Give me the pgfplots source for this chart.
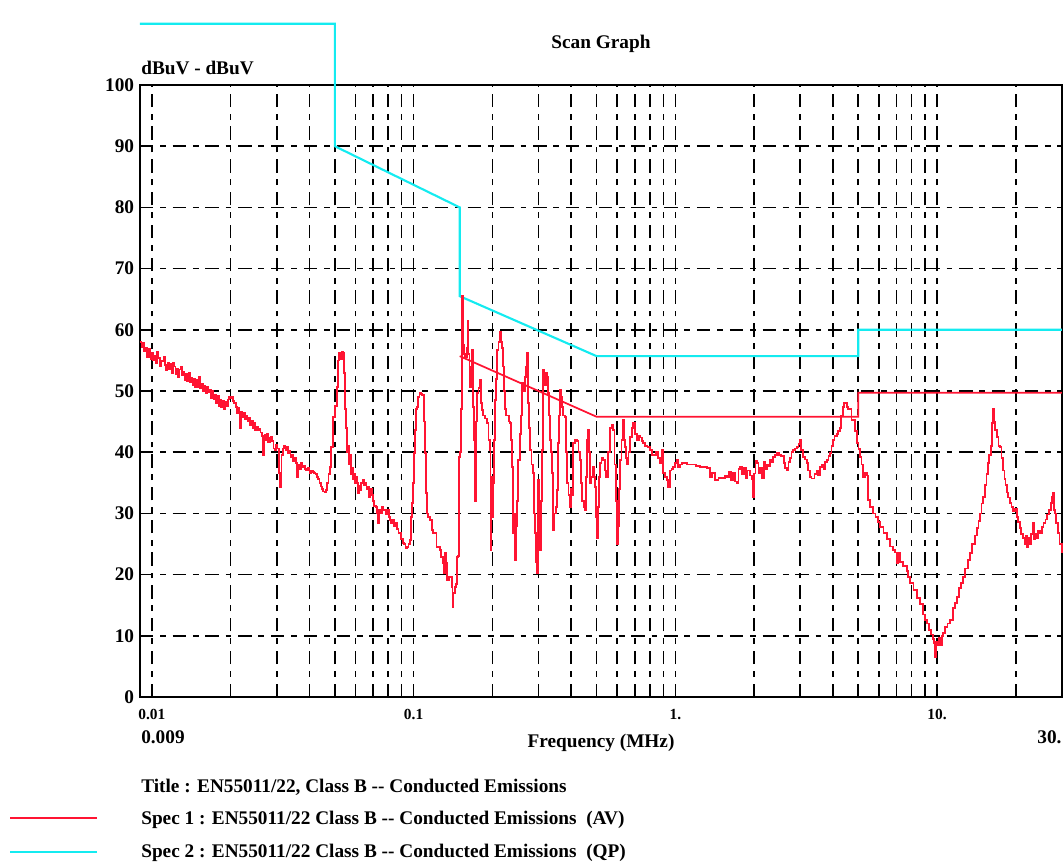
\documentclass[border=0pt]{standalone}
\usepackage{fontspec}
\setmainfont{Liberation Serif}
\usepackage{pgfplots}
\usepackage{pgfplotstable}
\pgfplotsset{compat=1.18}
\definecolor{measred}{RGB}{255,20,50}
\definecolor{qpcyan}{RGB}{20,235,240}

% measured trace: lf = log10(frequency in MHz), v = level in dBuV
\pgfplotstableread{
lf v
-2.0457 58.0
-2.040 57.2
-2.035 57.8
-2.030 56.5
-2.025 57.0
-2.020 55.6
-2.015 55.5
-2.010 56.9
-2.005 55.2
-2.000 56.3
-1.995 55.0
-1.990 55.8
-1.985 54.6
-1.980 56.4
-1.975 55.4
-1.970 54.0
-1.965 55.0
-1.960 54.8
-1.955 55.5
-1.950 54.2
-1.945 53.4
-1.940 54.6
-1.935 53.6
-1.930 54.4
-1.925 53.0
-1.920 54.6
-1.915 54.0
-1.910 52.8
-1.905 53.6
-1.900 52.3
-1.895 53.5
-1.890 54.0
-1.885 52.6
-1.880 53.2
-1.875 51.8
-1.870 52.8
-1.865 51.6
-1.860 52.9
-1.855 51.4
-1.850 52.2
-1.845 51.0
-1.840 52.0
-1.835 50.6
-1.830 51.8
-1.825 50.7
-1.820 52.3
-1.815 50.4
-1.810 51.2
-1.805 50.0
-1.800 50.9
-1.795 49.6
-1.790 50.6
-1.785 49.8
-1.780 50.2
-1.775 48.9
-1.770 50.0
-1.765 48.6
-1.760 49.4
-1.755 48.0
-1.750 49.2
-1.745 47.6
-1.740 48.6
-1.735 47.4
-1.730 48.4
-1.725 47.0
-1.720 48.2
-1.715 47.6
-1.710 48.6
-1.705 49.0
-1.700 48.8
-1.695 49.0
-1.690 48.4
-1.685 48.0
-1.680 47.4
-1.675 46.4
-1.670 47.2
-1.665 44.0
-1.660 46.6
-1.655 45.8
-1.650 46.4
-1.645 45.4
-1.640 46.0
-1.635 45.0
-1.630 45.6
-1.625 44.4
-1.620 45.2
-1.615 44.0
-1.610 44.8
-1.605 43.6
-1.600 44.2
-1.595 43.6
-1.590 43.8
-1.585 43.2
-1.580 42.6
-1.575 39.5
-1.570 42.8
-1.565 42.0
-1.560 43.0
-1.555 41.6
-1.550 42.4
-1.545 42.5
-1.540 41.8
-1.535 40.6
-1.530 40.4
-1.525 41.2
-1.520 40.6
-1.515 36.6
-1.510 34.3
-1.505 39.6
-1.500 40.6
-1.495 41.0
-1.490 40.4
-1.485 40.8
-1.480 39.8
-1.475 40.2
-1.470 39.2
-1.465 39.6
-1.460 38.6
-1.455 39.0
-1.450 38.2
-1.445 36.0
-1.440 38.0
-1.435 37.2
-1.430 38.2
-1.425 37.6
-1.420 37.8
-1.415 37.2
-1.410 37.0
-1.405 37.4
-1.400 37.0
-1.395 36.6
-1.390 37.0
-1.385 36.8
-1.380 36.6
-1.375 36.4
-1.370 36.0
-1.365 35.6
-1.360 35.0
-1.355 34.4
-1.350 34.0
-1.345 33.6
-1.340 33.4
-1.335 33.8
-1.330 35.0
-1.325 36.4
-1.320 37.6
-1.315 40.8
-1.308 45.7
-1.300 47.5
-1.293 50.7
-1.289 55.0
-1.284 56.2
-1.280 55.2
-1.275 56.4
-1.270 56.2
-1.266 53.0
-1.262 47.0
-1.258 44.0
-1.255 40.0
-1.251 41.0
-1.247 38.0
-1.243 39.5
-1.240 36.4
-1.236 37.5
-1.232 35.6
-1.228 36.4
-1.224 35.0
-1.220 36.0
-1.217 35.0
-1.213 33.3
-1.209 34.5
-1.205 33.8
-1.200 35.0
-1.194 35.5
-1.190 34.6
-1.186 35.0
-1.180 34.0
-1.175 34.3
-1.170 32.7
-1.165 34.0
-1.160 33.0
-1.155 32.0
-1.150 31.2
-1.145 31.0
-1.140 30.0
-1.136 28.4
-1.132 30.6
-1.126 30.0
-1.122 31.0
-1.117 30.6
-1.110 30.5
-1.105 29.8
-1.100 30.5
-1.095 29.4
-1.090 28.9
-1.085 28.4
-1.080 29.0
-1.075 28.0
-1.070 28.4
-1.064 27.5
-1.058 26.8
-1.052 26.8
-1.047 25.8
-1.041 25.2
-1.036 25.0
-1.031 24.3
-1.026 24.5
-1.020 25.0
-1.014 25.6
-1.010 29.4
-1.007 31.7
-1.003 35.0
-0.999 39.9
-0.995 43.6
-0.991 47.0
-0.987 47.4
-0.983 49.0
-0.978 49.7
-0.972 49.5
-0.968 49.3
-0.964 49.3
-0.960 45.0
-0.957 39.9
-0.953 33.3
-0.949 30.0
-0.945 29.4
-0.938 28.9
-0.930 27.3
-0.925 26.8
-0.919 26.8
-0.912 24.5
-0.905 24.5
-0.900 24.0
-0.894 22.9
-0.888 21.9
-0.884 20.3
-0.880 23.5
-0.876 21.9
-0.873 19.1
-0.866 19.6
-0.860 19.6
-0.854 18.0
-0.851 14.7
-0.848 17.0
-0.842 18.0
-0.838 18.5
-0.834 22.9
-0.830 23.0
-0.826 39.2
-0.822 40.0
-0.818 47.0
-0.8155 65.5
-0.812 57.5
-0.808 56.0
-0.804 55.5
-0.800 55.5
-0.796 57.0
-0.793 61.4
-0.790 56.0
-0.787 50.6
-0.782 54.0
-0.777 56.7
-0.773 47.4
-0.768 42.0
-0.766 32.0
-0.762 45.0
-0.758 49.7
-0.752 50.5
-0.747 51.8
-0.742 48.0
-0.739 46.9
-0.735 46.0
-0.728 45.5
-0.720 44.8
-0.714 42.0
-0.708 40.4
-0.706 24.0
-0.703 36.0
-0.701 29.4
-0.697 35.0
-0.693 42.0
-0.689 48.5
-0.685 52.0
-0.682 56.7
-0.676 58.0
-0.670 59.6
-0.666 58.0
-0.663 57.0
-0.659 54.0
-0.655 50.0
-0.651 47.0
-0.647 46.0
-0.643 46.0
-0.636 45.0
-0.632 44.8
-0.628 42.0
-0.624 37.6
-0.621 26.8
-0.617 30.0
-0.613 22.4
-0.609 28.0
-0.605 32.0
-0.601 38.7
-0.594 43.0
-0.590 46.0
-0.586 51.3
-0.580 50.0
-0.575 52.3
-0.571 54.0
-0.567 56.2
-0.563 48.0
-0.560 44.0
-0.556 40.4
-0.550 38.0
-0.544 36.6
-0.540 30.0
-0.537 26.8
-0.533 22.0
-0.529 20.3
-0.525 35.5
-0.521 30.0
-0.517 24.0
-0.513 32.0
-0.510 40.4
-0.506 53.4
-0.500 51.0
-0.495 53.0
-0.491 52.3
-0.487 49.7
-0.483 46.0
-0.479 42.0
-0.475 40.0
-0.472 36.6
-0.468 27.3
-0.462 30.0
-0.456 31.0
-0.452 33.8
-0.449 41.5
-0.445 46.0
-0.441 50.2
-0.437 49.0
-0.433 47.4
-0.428 46.0
-0.422 45.8
-0.418 40.0
-0.414 35.0
-0.408 33.0
-0.403 31.0
-0.399 34.0
-0.395 33.0
-0.391 41.5
-0.383 42.0
-0.376 41.8
-0.370 40.0
-0.365 38.7
-0.361 35.0
-0.357 32.0
-0.350 31.0
-0.345 30.5
-0.341 36.0
-0.338 42.0
-0.334 43.6
-0.330 40.0
-0.326 35.0
-0.320 36.0
-0.315 37.6
-0.311 36.0
-0.307 34.3
-0.303 29.4
-0.300 26.0
-0.296 31.0
-0.292 36.0
-0.288 38.2
-0.282 39.0
-0.277 38.7
-0.270 37.0
-0.265 36.0
-0.258 40.0
-0.250 44.0
-0.244 44.5
-0.238 43.6
-0.233 38.0
-0.228 32.0
-0.223 25.0
-0.219 28.0
-0.215 34.0
-0.212 38.7
-0.206 42.0
-0.200 45.3
-0.196 42.0
-0.193 40.8
-0.189 39.0
-0.185 38.0
-0.179 40.0
-0.173 42.5
-0.166 44.0
-0.162 44.8
-0.155 43.0
-0.147 42.0
-0.140 42.6
-0.135 42.4
-0.128 41.8
-0.124 41.5
-0.115 41.0
-0.106 40.8
-0.097 40.4
-0.090 39.5
-0.086 39.5
-0.075 40.0
-0.066 39.0
-0.059 38.2
-0.051 40.4
-0.047 36.6
-0.040 36.0
-0.032 35.5
-0.028 34.3
-0.021 37.0
-0.015 37.2
-0.009 37.6
0.000 38.2
0.006 38.7
0.010 37.6
0.017 38.0
0.025 38.2
0.044 38.0
0.060 38.0
0.080 37.8
0.094 37.6
0.110 37.6
0.121 37.4
0.132 36.0
0.140 36.6
0.151 35.5
0.165 35.8
0.180 35.8
0.190 36.2
0.197 36.0
0.205 36.8
0.212 35.4
0.220 36.6
0.228 35.2
0.235 35.0
0.241 37.2
0.247 37.6
0.255 36.4
0.262 37.4
0.270 35.8
0.274 37.0
0.285 36.2
0.293 35.6
0.297 32.7
0.301 36.5
0.306 38.6
0.312 38.2
0.318 36.6
0.323 37.4
0.330 35.8
0.338 38.4
0.345 37.2
0.350 38.0
0.356 37.8
0.361 38.7
0.367 38.4
0.373 39.2
0.380 39.6
0.388 39.9
0.395 39.6
0.405 39.4
0.414 38.2
0.420 37.4
0.426 37.0
0.432 38.4
0.438 39.0
0.444 40.0
0.449 40.4
0.457 40.6
0.465 40.8
0.471 41.4
0.476 42.0
0.480 40.4
0.488 39.2
0.495 38.8
0.503 38.2
0.508 37.0
0.514 36.0
0.520 35.7
0.526 35.7
0.532 36.4
0.540 37.0
0.546 36.2
0.553 37.6
0.560 38.0
0.566 37.2
0.572 38.4
0.579 38.7
0.585 39.4
0.591 39.9
0.597 41.0
0.602 42.0
0.608 42.6
0.617 43.0
0.623 43.5
0.629 44.0
0.634 46.0
0.640 47.4
0.644 48.0
0.652 48.0
0.656 47.4
0.660 47.0
0.667 47.0
0.673 45.3
0.679 45.3
0.686 43.5
0.694 41.5
0.700 40.5
0.705 39.2
0.711 38.0
0.717 36.0
0.725 36.6
0.732 36.2
0.737 32.2
0.745 31.0
0.755 30.0
0.765 29.4
0.775 28.6
0.782 27.8
0.795 26.8
0.809 25.8
0.820 24.6
0.831 24.0
0.840 23.6
0.847 21.9
0.853 23.5
0.858 22.0
0.870 21.4
0.885 20.6
0.890 19.6
0.896 18.6
0.910 17.5
0.923 16.2
0.935 15.2
0.946 13.5
0.955 12.6
0.961 12.0
0.970 11.0
0.978 10.2
0.984 9.5
0.988 8.8
0.992 6.5
0.996 9.0
1.003 8.5
1.008 9.6
1.012 8.4
1.018 10.0
1.023 10.5
1.030 11.4
1.040 12.0
1.049 12.6
1.060 14.6
1.068 15.4
1.076 16.4
1.085 17.8
1.092 18.6
1.099 19.6
1.108 21.0
1.118 22.4
1.126 23.5
1.135 25.0
1.144 26.4
1.152 27.6
1.158 28.8
1.164 30.0
1.170 31.6
1.175 32.7
1.182 34.6
1.189 36.4
1.195 38.2
1.200 39.6
1.205 41.0
1.210 44.8
1.214 47.0
1.218 45.0
1.222 43.6
1.229 42.5
1.235 41.0
1.240 40.8
1.246 39.0
1.252 37.0
1.258 35.6
1.262 34.6
1.267 33.4
1.272 32.6
1.279 31.7
1.285 31.0
1.290 30.4
1.298 30.8
1.305 29.4
1.310 28.6
1.316 27.6
1.322 26.6
1.328 26.0
1.334 25.0
1.340 26.4
1.344 24.5
1.350 26.0
1.355 25.0
1.360 26.6
1.366 28.4
1.370 25.8
1.376 26.6
1.382 26.0
1.387 27.2
1.393 26.8
1.400 27.8
1.407 28.4
1.414 29.0
1.420 29.8
1.428 30.6
1.435 31.7
1.439 32.7
1.443 33.3
1.447 30.5
1.451 30.0
1.456 28.4
1.462 26.8
1.468 25.0
1.4771 23.5
}\meas

\begin{document}
\begin{tikzpicture}
\useasboundingbox (-72.6pt,-86.6pt) rectangle (479.4pt,361.6pt);
\begin{axis}[
  scale only axis, width=478.3pt, height=317.5pt,
  at={(0,0)}, anchor=south west,
  xmode=log, xmin=0.009, xmax=30, ymin=0, ymax=100,
  clip=false,
  xtick={0.01,0.1,1,10},
  xticklabels={0.01,0.1,1.,10.},
  minor xtick={0.02,0.03,0.04,0.05,0.06,0.07,0.08,0.09,0.2,0.3,0.4,0.5,0.6,0.7,0.8,0.9,2,3,4,5,6,7,8,9,20},
  ytick={0,10,20,30,40,50,60,70,80,90,100},
  yticklabels={0,10,20,30,40,50,60,70,80,90,100},
  xmajorgrids, xminorgrids, ymajorgrids,
  major grid style={black, line width=0.85pt, dash pattern=on 7pt off 3.5pt on 3pt off 3.5pt},
  minor grid style={black, line width=0.85pt, dash pattern=on 7pt off 3.5pt on 3pt off 3.5pt},
  axis line style={black, line width=1.2pt},
  tick style={draw=none},
  xticklabel style={font=\bfseries\fontsize{8}{9}\selectfont, yshift=-3pt},
  yticklabel style={font=\bfseries, xshift=0.5pt},
]
\addplot[qpcyan, line width=1.1pt] coordinates {
  (0.009,110) (0.05,110) (0.05,90) (0.15,80) (0.15,65.5) (0.5,55.7) (5,55.7) (5,60) (30,60)};
\addplot[measred, line width=0.9pt] coordinates {
  (0.15,55.7) (0.5,45.8) (5,45.8) (5,49.7) (30,49.7)};
\addplot[measred, line width=0.9pt, const plot] table[x expr={10^(\thisrow{lf})}, y=v] {\meas};
\end{axis}
\node[font=\bfseries] at (239.2pt,338.8pt) {Scan Graph};
\node[font=\bfseries, anchor=west, inner sep=0pt] at (0.5pt,326.3pt) {dBuV - dBuV};
\node[font=\bfseries, anchor=west, inner sep=0pt] at (0.5pt,-20.8pt) {0.009};
\node[font=\bfseries, anchor=east, inner sep=0pt] at (478.3pt,-20.8pt) {30.};
\node[font=\bfseries] at (239.2pt,-23.9pt) {Frequency (MHz)};
\node[font=\bfseries, anchor=west, inner sep=0pt] at (0.5pt,-46.7pt) {Title : EN55011/22, Class B -{}- Conducted Emissions};
\node[font=\bfseries, anchor=west, inner sep=0pt] at (0.5pt,-63.8pt) {Spec 1 : EN55011/22 Class B -{}- Conducted Emissions\ \ (AV)};
\node[font=\bfseries, anchor=west, inner sep=0pt] at (0.5pt,-80.9pt) {Spec 2 : EN55011/22 Class B -{}- Conducted Emissions\ \ (QP)};
\draw[measred, line width=1.1pt] (-67.4pt,-62.8pt) -- (-22.3pt,-62.8pt);
\draw[qpcyan, line width=1.1pt] (-67.4pt,-80.4pt) -- (-22.3pt,-80.4pt);
\end{tikzpicture}
\end{document}
